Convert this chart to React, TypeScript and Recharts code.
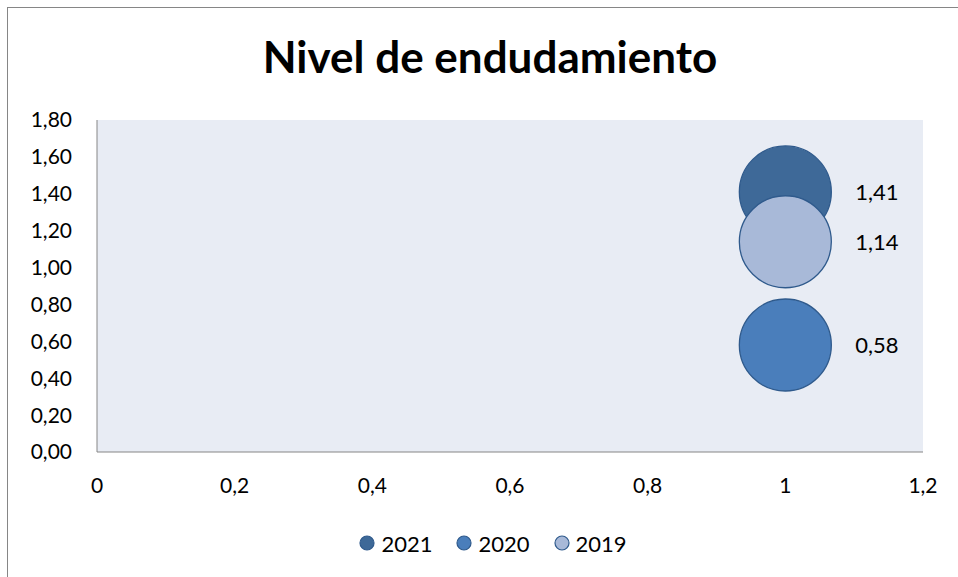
import React from 'react';
import { ScatterChart, Scatter, XAxis, YAxis, CartesianGrid, Legend } from 'recharts';

const seriesNames = ['2021', '2020', '2019'];
const xValues = [1, 1, 1];
const yValues = [1.41, 0.58, 1.14];
const xTicks = [0, 0.2, 0.4, 0.6, 0.8, 1, 1.2];
const yTicks = [0, 0.2, 0.4, 0.6, 0.8, 1, 1.2, 1.4, 1.6, 1.8];

const fills = ['#3E6998', '#4A7EBB', '#A8B9D8'];
const strokeColor = '#2F5A8C';
const FONT = 'Lato, Calibri, sans-serif';

const fmtX = (v: number) => String(Math.round(v * 10) / 10).replace('.', ',');
const fmtY = (v: number) => v.toFixed(2).replace('.', ',');

const Bubble = (props: any) => {
  const { cx, cy, fill, payload } = props;
  if (cx == null || cy == null) return null;
  return (
    <g>
      <circle cx={cx} cy={cy} r={46} fill={fill} stroke={strokeColor} strokeWidth={1.3} />
      <text x={cx + 70} y={cy} dy="0.36em" fontSize={22} fontFamily={FONT} fill="#000" textAnchor="start">
        {fmtY(payload.y)}
      </text>
    </g>
  );
};

const LegendContent = (props: any) => {
  const payload = [...(props.payload || [])].sort(
    (a: any, b: any) => seriesNames.indexOf(a.value) - seriesNames.indexOf(b.value)
  );
  return (
    <div style={{ display: 'flex', justifyContent: 'center', alignItems: 'center', height: 30, fontFamily: FONT, fontSize: 22, paddingLeft: 28, color: '#000' }}>
      {payload.map((p: any, i: number) => {
        const idx = seriesNames.indexOf(p.value);
        return (
          <div key={i} style={{ display: 'flex', alignItems: 'center', marginRight: i < payload.length - 1 ? 24 : 0 }}>
            <svg width={16} height={16} style={{ marginRight: 6 }}>
              <circle cx={8} cy={8} r={7} fill={fills[idx]} stroke={strokeColor} strokeWidth={1.2} />
            </svg>
            <span>{p.value}</span>
          </div>
        );
      })}
    </div>
  );
};

export default function App() {
  const series = seriesNames.map((name, i) => ({
    name,
    data: [{ x: xValues[i], y: yValues[i] }],
    fill: fills[i],
  }));
  return (
    <div style={{ position: 'absolute', left: 0, top: 0, width: 958, height: 577, background: '#fff', overflow: 'hidden' }}>
      <div style={{ position: 'absolute', left: 7, top: 7, width: 980, height: 600, border: '1px solid #868686', boxSizing: 'border-box' }} />
      <div style={{ position: 'absolute', left: 0, top: 30, width: 980, textAlign: 'center', fontFamily: FONT, fontWeight: 'bold', fontSize: 44, color: '#000', lineHeight: '53px' }}>
        Nivel de endudamiento
      </div>
      <div style={{ position: 'absolute', left: 0, top: 0 }}>
        <ScatterChart width={958} height={577} margin={{ top: 120, right: 35, bottom: 65, left: 0 }}>
          <CartesianGrid fill="#E8ECF4" stroke="none" horizontal={false} vertical={false} />
          <XAxis
            type="number"
            dataKey="x"
            domain={[0, 1.2]}
            ticks={xTicks}
            tickFormatter={fmtX}
            axisLine={{ stroke: '#868686' }}
            tickLine={false}
            tickSize={0}
            tickMargin={26}
            height={30}
            interval={0}
            tick={{ fill: '#000', fontSize: 21, fontFamily: FONT }}
          />
          <YAxis
            type="number"
            dataKey="y"
            domain={[0, 1.8]}
            ticks={yTicks}
            tickFormatter={fmtY}
            axisLine={{ stroke: '#868686' }}
            tickLine={false}
            tickSize={0}
            tickMargin={25}
            width={97}
            interval={0}
            tick={{ fill: '#000', fontSize: 21, fontFamily: FONT }}
          />
          <Legend
            verticalAlign="bottom"
            content={<LegendContent />}
            wrapperStyle={{ top: 528, left: 0, width: 958, height: 30 }}
          />
          {series.map((s) => (
            <Scatter key={s.name} name={s.name} data={s.data} fill={s.fill} shape={<Bubble />} isAnimationActive={false} />
          ))}
        </ScatterChart>
      </div>
    </div>
  );
}
